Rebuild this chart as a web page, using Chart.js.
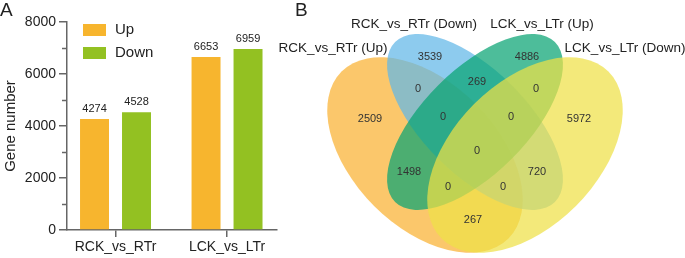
<!DOCTYPE html>
<html>
<head>
<meta charset="utf-8">
<script src="https://cdn.jsdelivr.net/npm/chart.js@4.4.1/dist/chart.umd.min.js"></script>
<style>
  body { margin: 0; background: #fff; width: 685px; height: 258px; position: relative; overflow: hidden; }
  canvas { position: absolute; top: 0; }
  #barChart { left: 0; }
  #vennChart { left: 265px; }
</style>
</head>
<body>
<canvas id="barChart" width="285" height="258"></canvas>
<canvas id="vennChart" width="420" height="258"></canvas>
<script>
// panel A data
var categories = ['RCK_vs_RTr', 'LCK_vs_LTr'];
var upValues = [4274, 6653];
var downValues = [4528, 6959];
var yTickLabels = [0, 2000, 4000, 6000, 8000];

// panel B data
var vennSets = ['RCK_vs_RTr (Up)', 'RCK_vs_RTr (Down)', 'LCK_vs_LTr (Up)', 'LCK_vs_LTr (Down)'];
// regions: A, B, C, D, AB, CD, BC, AC, BD, AD, ABC, BCD, ACD, ABD, ABCD
var vennRegions = ['A', 'B', 'C', 'D', 'AB', 'CD', 'BC', 'AC', 'BD', 'AD', 'ABC', 'BCD', 'ACD', 'ABD', 'ABCD'];
var vennCounts = [2509, 3539, 4886, 5972, 0, 0, 269, 1498, 720, 267, 0, 0, 0, 0, 0];

var FONT = "'Liberation Sans', Arial, sans-serif";
var axisColor = '#666';
var textColor = '#222';

// layout of the venn panel, in its own units (x -20..400, y 0..258 top-down)
var vennShapes = [
    {cx: 140, cy: 155, a: 118, b: 72, rot: 45, color: 'rgb(249,177,50)'},
    {cx: 190, cy: 122, a: 113, b: 52, rot: 45, color: 'rgb(97,183,231)'},
    {cx: 190, cy: 122, a: 113, b: 52, rot: -45, color: 'rgb(8,163,115)'},
    {cx: 240, cy: 155, a: 118, b: 72, rot: -45, color: 'rgb(238,224,70)'}
];
var vennCountPos = {
    A: [85, 119], B: [145, 57], C: [242, 57], D: [294, 119],
    AB: [133, 89], CD: [251, 89], BC: [192, 82], AC: [124, 172],
    BD: [252, 172], AD: [188, 220], ABC: [158, 117], BCD: [226, 117],
    ACD: [163, 187], ABD: [218, 187], ABCD: [192, 151]
};
var vennSetPos = [[48, 48], [129, 24], [257, 24], [340, 48]];

var barDecor = {
    id: 'barDecor',
    afterDraw: function (chart) {
        var ctx = chart.ctx;
        var ys = chart.scales.y;
        var left = chart.chartArea.left;
        ctx.save();
        // minor ticks
        ctx.strokeStyle = axisColor;
        ctx.lineWidth = 1.5;
        for (var v = 1000; v < 8000; v += 2000) {
            var py = Math.round(ys.getPixelForValue(v)) + 0.5;
            ctx.beginPath();
            ctx.moveTo(left - 5, py);
            ctx.lineTo(left, py);
            ctx.stroke();
        }
        // value labels
        ctx.fillStyle = textColor;
        ctx.font = '11px ' + FONT;
        ctx.textAlign = 'center';
        ctx.textBaseline = 'middle';
        chart.data.datasets.forEach(function (ds, di) {
            chart.getDatasetMeta(di).data.forEach(function (bar, i) {
                ctx.fillText(String(ds.data[i].y), bar.x, bar.y - 10);
            });
        });
        // legend
        ctx.textAlign = 'left';
        ctx.font = '15px ' + FONT;
        chart.data.datasets.forEach(function (ds, di) {
            var top = 24 + di * 23;
            ctx.fillStyle = ds.backgroundColor;
            ctx.fillRect(83, top, 23, 12);
            ctx.fillStyle = textColor;
            ctx.fillText(ds.label, 115, top + 6);
        });
        // panel letter
        ctx.font = '19px ' + FONT;
        ctx.textBaseline = 'top';
        ctx.fillText('A', 0, 1);
        ctx.restore();
    }
};

new Chart(document.getElementById('barChart'), {
    type: 'bar',
    data: {
        datasets: [
            {
                label: 'Up',
                data: upValues.map(function (v, i) { return {x: i, y: v}; }),
                backgroundColor: '#F7B52E'
            },
            {
                label: 'Down',
                data: downValues.map(function (v, i) { return {x: i, y: v}; }),
                backgroundColor: '#93C122'
            }
        ]
    },
    options: {
        responsive: false,
        animation: false,
        categoryPercentage: 0.753,
        barPercentage: 0.69,
        layout: {padding: {top: 22, right: 8, left: 0, bottom: 0}},
        plugins: {legend: {display: false}, tooltip: {enabled: false}},
        scales: {
            x: {
                type: 'linear',
                offset: false,
                bounds: 'data',
                min: -0.435,
                max: 1.448,
                afterBuildTicks: function (scale) {
                    scale.ticks = categories.map(function (c, i) { return {value: i}; });
                },
                afterFit: function (scale) { scale.height = 28; },
                ticks: {
                    callback: function (v) { return categories[v]; },
                    color: textColor,
                    font: {size: 14, family: FONT},
                    padding: 2,
                    maxRotation: 0,
                    autoSkip: false
                },
                grid: {drawOnChartArea: false, offset: false, tickLength: 7, color: axisColor, lineWidth: 1.5},
                border: {color: axisColor, width: 1.5}
            },
            y: {
                min: 0,
                max: 8000,
                afterFit: function (scale) { scale.width = 67; },
                ticks: {
                    stepSize: 1000,
                    callback: function (v) { return yTickLabels.indexOf(v) >= 0 ? String(v) : ''; },
                    color: textColor,
                    font: {size: 14, family: FONT},
                    padding: 3
                },
                grid: {
                    drawOnChartArea: false,
                    tickLength: 8,
                    lineWidth: 1.5,
                    tickColor: function (ctx) {
                        return yTickLabels.indexOf(ctx.tick.value) >= 0 ? axisColor : 'rgba(0,0,0,0)';
                    }
                },
                border: {color: axisColor, width: 1.5},
                title: {
                    display: true,
                    text: 'Gene number',
                    color: textColor,
                    font: {size: 15, family: FONT},
                    padding: {top: 2, bottom: 0}
                }
            }
        }
    },
    plugins: [barDecor]
});

var vennDraw = {
    id: 'vennDraw',
    beforeDatasetsDraw: function (chart) {
        var ctx = chart.ctx;
        var xs = chart.scales.x, ys = chart.scales.y;
        var k = Math.abs(xs.getPixelForValue(1) - xs.getPixelForValue(0));
        ctx.save();
        ctx.globalAlpha = 0.72;
        vennShapes.forEach(function (e) {
            ctx.beginPath();
            ctx.ellipse(xs.getPixelForValue(e.cx), ys.getPixelForValue(e.cy),
                e.a * k, e.b * k, e.rot * Math.PI / 180, 0, Math.PI * 2);
            ctx.fillStyle = e.color;
            ctx.fill();
        });
        ctx.restore();
    },
    afterDatasetsDraw: function (chart) {
        var ctx = chart.ctx;
        var xs = chart.scales.x, ys = chart.scales.y;
        ctx.save();
        ctx.textAlign = 'center';
        ctx.textBaseline = 'middle';
        ctx.fillStyle = '#333';
        ctx.font = '11px ' + FONT;
        chart.getDatasetMeta(0).data.forEach(function (pt, i) {
            ctx.fillText(String(vennCounts[i]), pt.x, pt.y);
        });
        ctx.fillStyle = textColor;
        ctx.font = '13.5px ' + FONT;
        vennSets.forEach(function (name, i) {
            ctx.fillText(name, xs.getPixelForValue(vennSetPos[i][0]), ys.getPixelForValue(vennSetPos[i][1]));
        });
        ctx.font = '19px ' + FONT;
        ctx.textAlign = 'left';
        ctx.textBaseline = 'top';
        ctx.fillText('B', xs.getPixelForValue(10), ys.getPixelForValue(1));
        ctx.restore();
    }
};

new Chart(document.getElementById('vennChart'), {
    type: 'scatter',
    data: {
        datasets: [{
            data: vennRegions.map(function (r) { return {x: vennCountPos[r][0], y: vennCountPos[r][1]}; }),
            pointRadius: 0
        }]
    },
    options: {
        responsive: false,
        animation: false,
        layout: {padding: 0},
        plugins: {legend: {display: false}, tooltip: {enabled: false}},
        scales: {
            x: {type: 'linear', min: -20, max: 400, display: false},
            y: {type: 'linear', min: 0, max: 258, reverse: true, display: false}
        }
    },
    plugins: [vennDraw]
});
</script>
</body>
</html>
